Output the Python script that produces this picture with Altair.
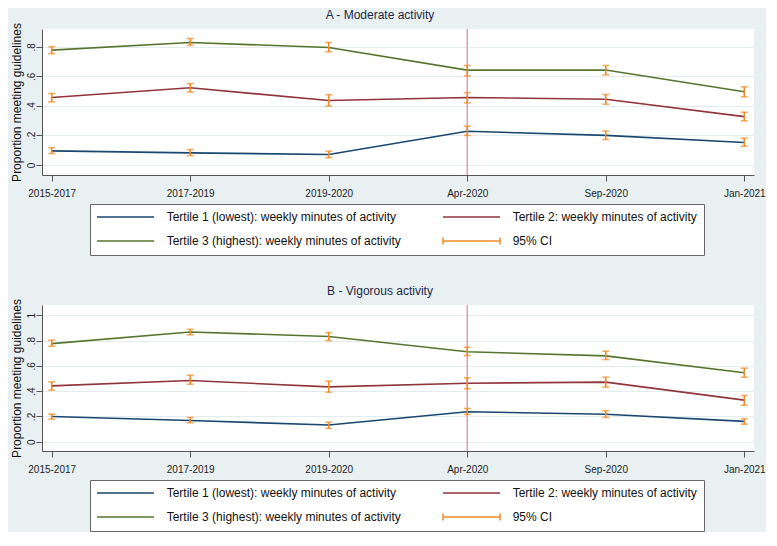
import altair as alt
import pandas as pd

FONT = "Liberation Sans"

periods = ["2015-2017", "2017-2019", "2019-2020", "Apr-2020", "Sep-2020", "Jan-2021"]
series_names = [
    "Tertile 1 (lowest): weekly minutes of activity",
    "Tertile 2: weekly minutes of activity",
    "Tertile 3 (highest): weekly minutes of activity",
]
ci_name = "95% CI"
break_period = "Apr-2020"

# Panel A - Moderate activity
mod_t1_est = [0.095, 0.082, 0.071, 0.228, 0.200, 0.152]
mod_t1_lo = [0.077, 0.063, 0.049, 0.200, 0.172, 0.127]
mod_t1_hi = [0.117, 0.104, 0.093, 0.262, 0.230, 0.181]
mod_t2_est = [0.456, 0.522, 0.436, 0.456, 0.445, 0.327]
mod_t2_lo = [0.427, 0.493, 0.398, 0.420, 0.411, 0.298]
mod_t2_hi = [0.483, 0.551, 0.475, 0.490, 0.477, 0.357]
mod_t3_est = [0.777, 0.829, 0.795, 0.642, 0.642, 0.495]
mod_t3_lo = [0.753, 0.809, 0.766, 0.603, 0.610, 0.461]
mod_t3_hi = [0.800, 0.856, 0.829, 0.673, 0.673, 0.529]

# Panel B - Vigorous activity
vig_t1_est = [0.200, 0.168, 0.132, 0.237, 0.218, 0.161]
vig_t1_lo = [0.179, 0.150, 0.105, 0.216, 0.192, 0.139]
vig_t1_hi = [0.218, 0.192, 0.155, 0.263, 0.245, 0.182]
vig_t2_est = [0.442, 0.484, 0.434, 0.463, 0.471, 0.329]
vig_t2_lo = [0.408, 0.455, 0.392, 0.418, 0.432, 0.289]
vig_t2_hi = [0.474, 0.526, 0.479, 0.505, 0.511, 0.366]
vig_t3_est = [0.776, 0.868, 0.832, 0.711, 0.679, 0.545]
vig_t3_lo = [0.755, 0.845, 0.800, 0.682, 0.650, 0.510]
vig_t3_hi = [0.803, 0.889, 0.863, 0.747, 0.716, 0.582]

line_colors = ["#1a476f", "#90353b", "#55752f"]
ci_color = "#ee8a25"
line_path = "M-1.5,0H12.75"
ci_path = "M-1.5,0H12.75M-1.5,-0.9V0.9M12.75,-0.9V0.9"

# legend entries are filled column by column: T1, T3 | T2, CI
legend_order = [series_names[0], series_names[2], series_names[1], ci_name]
legend_colors = [line_colors[0], line_colors[2], line_colors[1], ci_color]
legend_shapes = [line_path, line_path, line_path, ci_path]


def make_df(ests, los, his):
    rows = []
    for name, e, l, h in zip(series_names, ests, los, his):
        for p, ev, lv, hv in zip(periods, e, l, h):
            rows.append({"period": p, "series": name, "est": ev, "lo": lv, "hi": hv})
    return pd.DataFrame(rows)


df_mod = make_df([mod_t1_est, mod_t2_est, mod_t3_est],
                 [mod_t1_lo, mod_t2_lo, mod_t3_lo],
                 [mod_t1_hi, mod_t2_hi, mod_t3_hi])
df_vig = make_df([vig_t1_est, vig_t2_est, vig_t3_est],
                 [vig_t1_lo, vig_t2_lo, vig_t3_lo],
                 [vig_t1_hi, vig_t2_hi, vig_t3_hi])

legend_df = pd.DataFrame({
    "series": legend_order,
    "period": [periods[0]] * 4,
    "est": [0.0] * 4,
})

label_expr = ("datum.value == 0 ? '0' : (datum.value == 1 ? '1' : "
              "replace(format(datum.value, '.1f'), '0.', '.'))")


def panel(df, title, ydom, yticks):
    xscale = alt.Scale(type="point", domain=periods, padding=0.07)
    yscale = alt.Scale(domain=ydom, nice=False, zero=False)
    xaxis = alt.Axis(title=None, labelAngle=0, labelFontSize=10, labelFont=FONT,
                     labelColor="#222", tickSize=6, labelPadding=7, grid=False)
    yaxis = alt.Axis(title="Proportion meeting guidelines", values=yticks,
                     labelExpr=label_expr, labelAngle=270, labelAlign="center",
                     labelBaseline="bottom", labelFontSize=10, labelFont=FONT,
                     labelColor="#222", tickSize=6, labelPadding=0,
                     titleFont=FONT, titleFontSize=12, titleFontWeight="normal",
                     titleColor="#111", titlePadding=3, grid=True,
                     gridColor="#e3ecef", gridWidth=1.2)

    x_enc = alt.X("period:N", scale=xscale, axis=xaxis)

    def y_enc(field):
        return alt.Y(field + ":Q", scale=yscale, axis=yaxis)

    vline = alt.Chart(pd.DataFrame({"period": [break_period]})).mark_rule(
        color="#e899ae", strokeWidth=1.5).encode(x=x_enc)

    lines = alt.Chart(df).mark_line(strokeWidth=1.6).encode(
        x=x_enc,
        y=y_enc("est"),
        color=alt.Color("series:N", scale=alt.Scale(domain=series_names, range=line_colors),
                        legend=None),
        detail="series:N",
    )

    ci_rule = alt.Chart(df).mark_rule(color=ci_color, strokeWidth=1.6).encode(
        x=x_enc, y=y_enc("lo"), y2="hi:Q")
    ci_lo = alt.Chart(df).mark_tick(color=ci_color, size=7, thickness=1.6).encode(
        x=x_enc, y=y_enc("lo"))
    ci_hi = alt.Chart(df).mark_tick(color=ci_color, size=7, thickness=1.6).encode(
        x=x_enc, y=y_enc("hi"))

    leg = alt.Legend(title=None, orient="none", legendX=48, legendY=175, columns=2,
                     columnPadding=39, rowPadding=11, symbolSize=64,
                     symbolStrokeWidth=1.5, symbolOpacity=1, symbolOffset=0,
                     labelOffset=57.7, labelFont=FONT, labelFontSize=12,
                     labelColor="#111", labelLimit=400, fillColor="white",
                     strokeColor="#666", padding=7, symbolFillColor="transparent")
    legend_layer = alt.Chart(legend_df).mark_point(opacity=0, filled=False).encode(
        x=x_enc,
        y=y_enc("est"),
        stroke=alt.Stroke("series:N", scale=alt.Scale(domain=legend_order, range=legend_colors),
                          legend=leg),
        shape=alt.Shape("series:N", scale=alt.Scale(domain=legend_order, range=legend_shapes),
                        legend=leg),
    )

    return alt.layer(vline, lines, ci_rule, ci_lo, ci_hi, legend_layer).properties(
        width=712, height=146,
        title=alt.TitleParams(title, fontSize=12, font=FONT, color="#1c2846",
                              fontWeight="normal", anchor="middle", dx=-18, offset=1),
    )


chart_a = panel(df_mod, "A - Moderate activity", [-0.068, 0.92], [0, 0.2, 0.4, 0.6, 0.8])
chart_b = panel(df_vig, "B - Vigorous activity", [-0.073, 1.081], [0, 0.2, 0.4, 0.6, 0.8, 1])

chart = alt.vconcat(chart_a, chart_b, spacing=28).resolve_scale(
    x="independent", y="independent", color="independent",
    stroke="independent", shape="independent"
).resolve_legend(stroke="independent", shape="independent").properties(
    background="#e9f0f2",
    padding={"left": 1, "top": 0, "right": 0, "bottom": 0},
).configure_view(
    fill="white", strokeWidth=0
).configure_axis(
    domainColor="#555", tickColor="#555", domainWidth=1, tickWidth=1
)

chart.save("out.html", embed_options={"renderer": "svg", "actions": False})
